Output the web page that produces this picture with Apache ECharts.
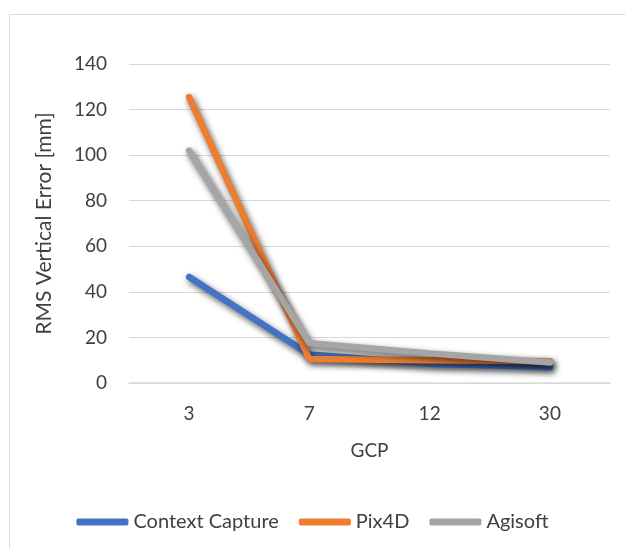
<!DOCTYPE html>
<html>
<head>
<meta charset="utf-8">
<script src="https://cdn.jsdelivr.net/npm/echarts@6/dist/echarts.min.js"></script>
<style>
html,body{margin:0;padding:0;background:#fff;}
#main{width:625px;height:548px;}
</style>
</head>
<body>
<div id="main"></div>
<script>
const categories = ['3', '7', '12', '30'];
const contextCapture = [46.5, 12.5, 8.5, 7];
const pix4d = [125.5, 10.5, 10, 9.5];
const agisoft = [102, 17.5, 13, 9];
const seriesNames = ['Context Capture', 'Pix4D', 'Agisoft'];
const colors = ['#4472C4', '#ED7D31', '#A5A5A5'];

const FONT = 'Lato';
const TXT = '#404040';
const chart = echarts.init(document.getElementById('main'), null, {renderer: 'canvas'});

function mkSeries(name, data, color) {
  return {
    name: name,
    type: 'line',
    data: data,
    symbol: 'none',
    color: color,
    lineStyle: {
      width: 6.5,
      color: color,
      cap: 'round',
      shadowColor: 'rgba(0,0,0,0.65)',
      shadowBlur: 6,
      shadowOffsetX: 2,
      shadowOffsetY: 3
    },
    emphasis: {disabled: true},
    animation: false
  };
}

chart.setOption({
  backgroundColor: '#fff',
  animation: false,
  graphic: [{
    type: 'rect',
    shape: {x: 9.5, y: 14.5, width: 700, height: 600},
    style: {fill: 'none', stroke: '#d9d9d9', lineWidth: 1},
    silent: true
  }],
  grid: {left: 129, top: 64, width: 481, height: 319, containLabel: false},
  legend: {
    data: seriesNames,
    left: 'center',
    top: 507,
    itemWidth: 52,
    itemHeight: 7,
    itemGap: 20,
    icon: 'roundRect',
    textStyle: {color: TXT, fontFamily: FONT, fontSize: 20}
  },
  xAxis: {
    type: 'category',
    data: categories,
    boundaryGap: true,
    name: 'GCP',
    nameLocation: 'middle',
    nameGap: 58,
    nameTextStyle: {color: TXT, fontFamily: FONT, fontSize: 19},
    axisLine: {show: true, lineStyle: {color: '#d9d9d9', width: 1.5}},
    axisTick: {show: false},
    axisLabel: {color: TXT, fontFamily: FONT, fontSize: 19, margin: 21}
  },
  yAxis: {
    type: 'value',
    min: 0,
    max: 140,
    interval: 20,
    name: 'RMS Vertical Error [mm]',
    nameLocation: 'middle',
    nameGap: 74,
    nameRotate: 90,
    nameTextStyle: {color: TXT, fontFamily: FONT, fontSize: 21},
    axisLine: {show: false},
    axisTick: {show: false},
    axisLabel: {color: TXT, fontFamily: FONT, fontSize: 19, margin: 22},
    splitLine: {lineStyle: {color: '#d9d9d9', width: 1}}
  },
  series: [
    mkSeries(seriesNames[0], contextCapture, colors[0]),
    mkSeries(seriesNames[1], pix4d, colors[1]),
    mkSeries(seriesNames[2], agisoft, colors[2])
  ]
});
</script>
</body>
</html>
